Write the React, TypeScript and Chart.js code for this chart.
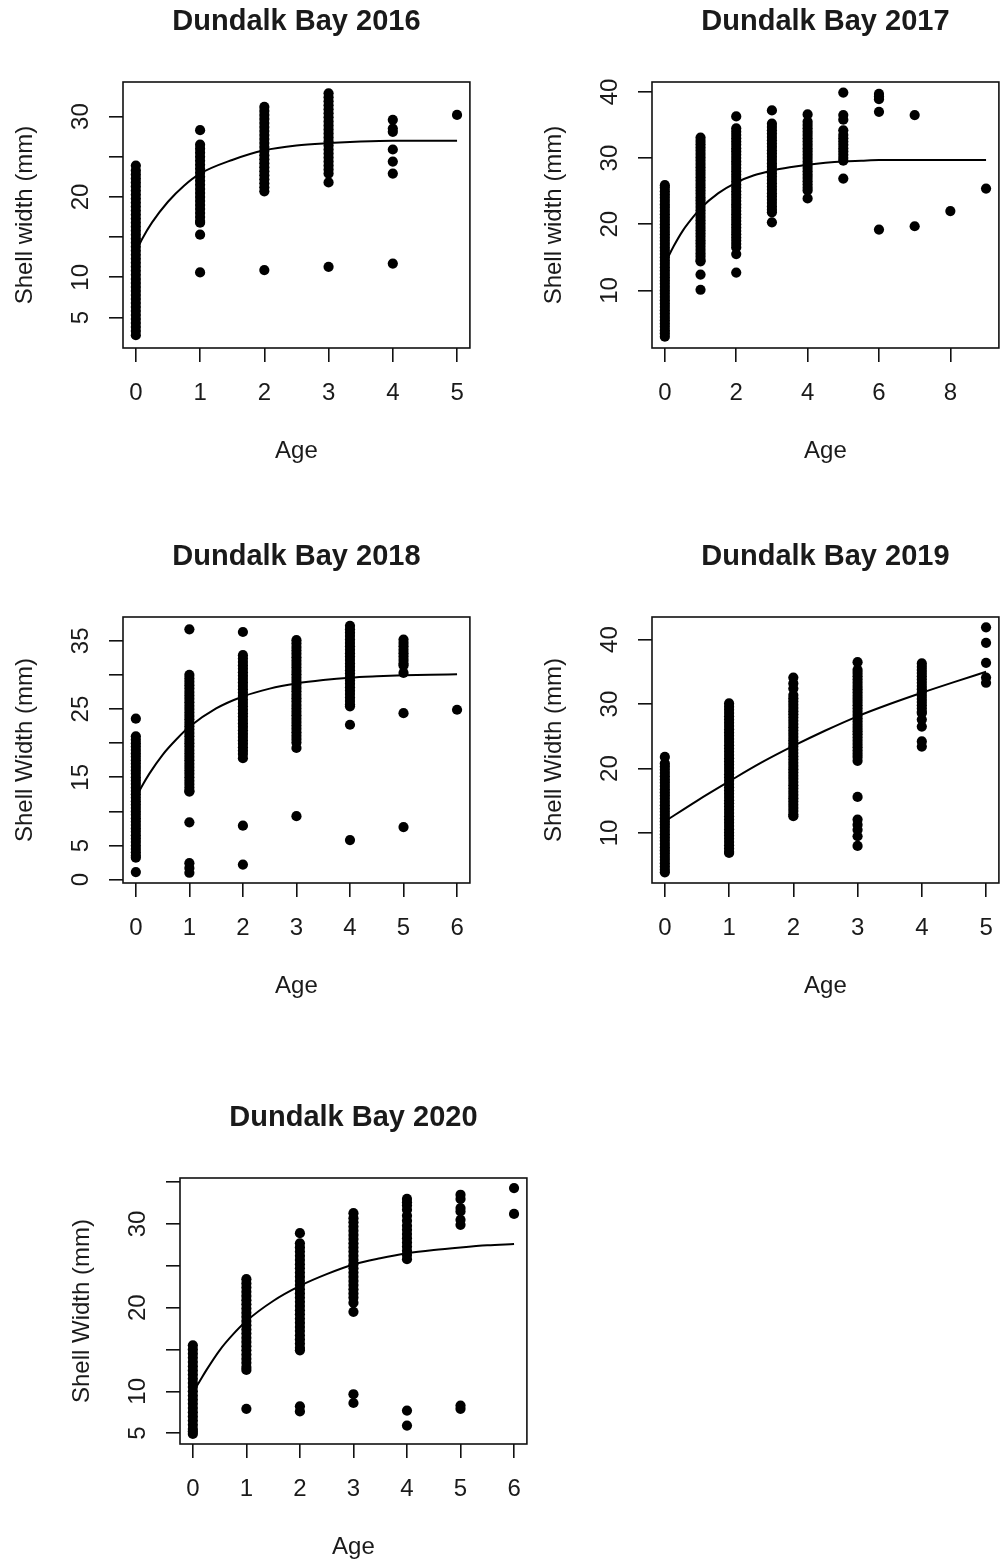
import React, { useEffect, useRef } from 'react';
import { Chart, registerables } from 'chart.js';

Chart.register(...registerables);

const FONT = '"Liberation Sans", Arial, Helvetica, sans-serif';
const INK = '#1a1a1a';

// ---------------- 2016 ----------------
const AGES_2016 = [0, 1, 2, 3, 4, 5];
const WIDTH_2016 = [
  [2.8, 3.3, 3.8, 4.3, 4.8, 5.3, 5.8, 6.3, 6.8, 7.3, 7.8, 8.3, 8.8, 9.3, 9.8, 10.3, 10.8, 11.3, 11.8, 12.3, 12.8, 13.3, 13.8, 14.3, 14.8, 15.3, 15.8, 16.3, 16.8, 17.3, 17.8, 18.3, 18.8, 19.3, 19.8, 20.3, 20.8, 21.3, 21.8, 22.3, 22.8, 23.3, 23.9],
  [28.3, 26.5, 26, 25.5, 25, 24.5, 24, 23.5, 23, 22.5, 22, 21.5, 21, 20.5, 20, 19.5, 19, 18.5, 18, 17.5, 17, 16.8, 15.3, 10.6],
  [31.2, 30.7, 30.2, 29.7, 29.2, 28.7, 28.2, 27.7, 27.2, 26.7, 26.2, 25.7, 25.2, 24.7, 24.2, 23.7, 23.2, 22.7, 22.2, 21.7, 21.2, 20.7, 10.9],
  [32.9, 32.4, 31.9, 31.4, 30.9, 30.4, 29.9, 29.4, 28.9, 28.4, 27.9, 27.4, 26.9, 26.4, 25.9, 25.4, 24.9, 24.4, 23.9, 23.4, 22.9, 21.8, 11.3],
  [29.6, 28.5, 28.1, 25.9, 24.4, 22.9, 11.7],
  [30.2],
];
const CURVE_AGE_2016 = [0, 0.1, 0.25, 0.5, 0.75, 1, 1.5, 2, 2.5, 3, 3.5, 4, 4.5, 5];
const CURVE_W_2016 = [13.2, 14.8, 16.8, 19.4, 21.4, 22.9, 24.6, 25.8, 26.4, 26.7, 26.9, 27.0, 27.0, 27.0];
const X_TICKS_2016 = [0, 1, 2, 3, 4, 5];
const Y_TICKS_2016 = [5, 10, 15, 20, 25, 30];
const Y_LABELS_2016 = [5, 10, 20, 30];

// ---------------- 2017 ----------------
const AGES_2017 = [0, 1, 2, 3, 4, 5, 6, 7, 8, 9];
const WIDTH_2017 = [
  [3, 3.5, 4, 4.5, 5, 5.5, 6, 6.5, 7, 7.5, 8, 8.5, 9, 9.5, 10, 10.5, 11, 11.5, 12, 12.5, 13, 13.5, 14, 14.5, 15, 15.5, 16, 16.5, 17, 17.5, 18, 18.5, 19, 19.5, 20, 20.5, 21, 21.5, 22, 22.5, 23, 23.5, 24, 24.5, 25, 25.5, 25.9],
  [33.1, 32.6, 32.1, 31.6, 31.1, 30.6, 30.1, 29.6, 29.1, 28.6, 28.1, 27.6, 27.1, 26.6, 26.1, 25.6, 25.1, 24.6, 24.1, 23.6, 23.1, 22.6, 22.1, 21.6, 21.1, 20.6, 20.1, 19.6, 19.1, 18.6, 18.1, 17.6, 17.1, 16.6, 16.1, 15.6, 15.1, 14.6, 14.4, 12.4, 10.1],
  [36.3, 34.5, 34, 33.5, 33, 32.5, 32, 31.5, 31, 30.5, 30, 29.5, 29, 28.5, 28, 27.5, 27, 26.5, 26, 25.5, 25, 24.5, 24, 23.5, 23, 22.5, 22, 21.5, 21, 20.5, 20, 19.5, 19, 18.5, 18, 17.5, 17, 16.5, 15.5, 12.7],
  [37.2, 35.2, 34.7, 34.2, 33.7, 33.2, 32.7, 32.2, 31.7, 31.2, 30.7, 30.2, 29.7, 29.2, 28.7, 28.2, 27.7, 27.2, 26.7, 26.2, 25.7, 25.2, 24.7, 24.2, 23.7, 23.2, 22.7, 22.2, 21.8, 20.3],
  [36.6, 35.5, 35, 34.5, 34, 33.5, 33, 32.5, 32, 31.5, 31, 30.5, 30, 29.5, 29, 28.5, 28, 27.5, 27, 26.5, 26, 25.5, 25.1, 23.9],
  [39.9, 36.5, 35.8, 34.2, 33.5, 33, 32.5, 32, 31.5, 31, 30.5, 30, 29.6, 26.9],
  [39.7, 39.3, 38.9, 37.0, 19.2],
  [36.5, 19.7],
  [22.0],
  [25.4],
];
const CURVE_AGE_2017 = [0, 0.1, 0.25, 0.5, 0.75, 1, 1.5, 2, 2.5, 3, 3.5, 4, 4.5, 5, 5.5, 6, 7, 8, 9];
const CURVE_W_2017 = [13.9, 15.1, 16.7, 19.0, 20.8, 22.4, 24.7, 26.3, 27.4, 28.1, 28.6, 29.0, 29.3, 29.5, 29.6, 29.7, 29.7, 29.7, 29.7];
const X_TICKS_2017 = [0, 2, 4, 6, 8];
const Y_TICKS_2017 = [10, 20, 30, 40];
const Y_LABELS_2017 = [10, 20, 30, 40];

// ---------------- 2018 ----------------
const AGES_2018 = [0, 1, 2, 3, 4, 5, 6];
const WIDTH_2018 = [
  [23.6, 21, 20.5, 20, 19.5, 19, 18.5, 18, 17.5, 17, 16.5, 16, 15.5, 15, 14.5, 14, 13.5, 13, 12.5, 12, 11.5, 11, 10.5, 10, 9.5, 9, 8.5, 8, 7.5, 7, 6.5, 6, 5.5, 5, 4.5, 4, 3.5, 3.2, 1.1],
  [36.7, 30, 29.5, 29, 28.5, 28, 27.5, 27, 26.5, 26, 25.5, 25, 24.5, 24, 23.5, 23, 22.5, 22, 21.5, 21, 20.5, 20, 19.5, 19, 18.5, 18, 17.5, 17, 16.5, 16, 15.5, 15, 14.5, 14, 13.5, 13, 12.9, 8.4, 2.4, 1.7, 1.0],
  [36.3, 32.9, 32.4, 31.9, 31.4, 30.9, 30.4, 29.9, 29.4, 28.9, 28.4, 27.9, 27.4, 26.9, 26.4, 25.9, 25.4, 24.9, 24.4, 23.9, 23.4, 22.9, 22.4, 21.9, 21.4, 20.9, 20.4, 19.9, 19.4, 18.9, 18.4, 17.8, 7.9, 2.2],
  [35.1, 34.6, 34.1, 33.6, 33.1, 32.6, 32.1, 31.6, 31.1, 30.6, 30.1, 29.6, 29.1, 28.6, 28.1, 27.6, 27.1, 26.6, 26.1, 25.6, 25.1, 24.6, 24.1, 23.6, 23.1, 22.6, 22.1, 21.6, 21.1, 20.6, 20.1, 19.3, 9.3],
  [37.2, 36.7, 36.2, 35.7, 35.2, 34.7, 34.2, 33.7, 33.2, 32.7, 32.2, 31.7, 31.2, 30.7, 30.2, 29.7, 29.2, 28.7, 28.2, 27.7, 27.2, 26.7, 26.2, 25.7, 25.4, 22.7, 5.8],
  [35.2, 34.7, 34.2, 33.7, 33.2, 32.7, 32.2, 31.7, 31.4, 30.3, 24.4, 7.7],
  [24.9],
];
const CURVE_AGE_2018 = [0, 0.1, 0.25, 0.5, 0.75, 1, 1.5, 2, 2.5, 3, 3.5, 4, 4.5, 5, 5.5, 6];
const CURVE_W_2018 = [12.0, 13.5, 15.5, 18.3, 20.5, 22.4, 25.1, 26.85, 28.0, 28.75, 29.25, 29.6, 29.8, 29.95, 30.05, 30.1];
const X_TICKS_2018 = [0, 1, 2, 3, 4, 5, 6];
const Y_TICKS_2018 = [0, 5, 10, 15, 20, 25, 30, 35];
const Y_LABELS_2018 = [0, 5, 15, 25, 35];

// ---------------- 2019 ----------------
const AGES_2019 = [0, 1, 2, 3, 4, 5];
const WIDTH_2019 = [
  [21.8, 20.8, 20.3, 19.8, 19.3, 18.8, 18.3, 17.8, 17.3, 16.8, 16.3, 15.8, 15.3, 14.8, 14.3, 13.8, 13.3, 12.8, 12.3, 11.8, 11.3, 10.8, 10.3, 9.8, 9.3, 8.8, 8.3, 7.8, 7.3, 6.8, 6.3, 5.8, 5.3, 4.8, 4.3, 3.9],
  [30.1, 29.6, 29.1, 28.6, 28.1, 27.6, 27.1, 26.6, 26.1, 25.6, 25.1, 24.6, 24.1, 23.6, 23.1, 22.6, 22.1, 21.6, 21.1, 20.6, 20.1, 19.6, 19.1, 18.6, 18.1, 17.6, 17.1, 16.6, 16.1, 15.6, 15.1, 14.6, 14.1, 13.6, 13.1, 12.6, 12.1, 11.6, 11.1, 10.6, 10.1, 9.6, 9.1, 8.6, 8.1, 7.6, 7.1, 6.9],
  [34.1, 33.2, 32.4, 31.4, 30.9, 30.4, 29.9, 29.4, 28.9, 28.4, 27.9, 27.4, 26.9, 26.4, 25.9, 25.4, 24.9, 24.4, 23.9, 23.4, 22.9, 22.4, 21.9, 21.4, 20.9, 20.4, 19.9, 19.4, 18.9, 18.4, 17.9, 17.4, 16.9, 16.4, 15.9, 15.4, 14.9, 14.4, 13.9, 13.4, 12.9, 12.6],
  [36.5, 35.3, 34.8, 34.3, 33.8, 33.3, 32.8, 32.3, 31.8, 31.3, 30.8, 30.3, 29.8, 29.3, 28.8, 28.3, 27.8, 27.3, 26.8, 26.3, 25.8, 25.3, 24.8, 24.3, 23.8, 23.3, 22.8, 22.3, 21.8, 21.2, 15.6, 12.1, 11.3, 10.5, 9.5, 8.0],
  [36.3, 35.8, 35.3, 34.8, 34.3, 33.8, 33.3, 32.8, 32.3, 31.8, 31.3, 30.8, 30.3, 29.8, 29.3, 28.8, 28.6, 27.6, 26.5, 24.2, 23.4],
  [41.9, 39.5, 36.4, 34.1, 33.3],
];
const CURVE_AGE_2019 = [0, 0.5, 1, 1.5, 2, 2.5, 3, 3.5, 4, 4.5, 5];
const CURVE_W_2019 = [11.8, 15.0, 18.0, 20.9, 23.5, 25.9, 28.1, 30.0, 31.75, 33.4, 35.0];
const X_TICKS_2019 = [0, 1, 2, 3, 4, 5];
const Y_TICKS_2019 = [10, 20, 30, 40];
const Y_LABELS_2019 = [10, 20, 30, 40];

// ---------------- 2020 ----------------
const AGES_2020 = [0, 1, 2, 3, 4, 5, 6];
const WIDTH_2020 = [
  [15.5, 15, 14.5, 14, 13.5, 13, 12.5, 12, 11.5, 11, 10.5, 10, 9.5, 9, 8.5, 8, 7.5, 7, 6.5, 6, 5.5, 5.2, 4.9],
  [23.4, 22.9, 22.4, 21.9, 21.4, 20.9, 20.4, 19.9, 19.4, 18.9, 18.4, 17.9, 17.4, 16.9, 16.4, 15.9, 15.4, 14.9, 14.4, 13.9, 13.4, 12.9, 12.55, 7.9],
  [28.9, 27.7, 27.2, 26.7, 26.2, 25.7, 25.2, 24.7, 24.2, 23.7, 23.2, 22.7, 22.2, 21.7, 21.2, 20.7, 20.2, 19.7, 19.2, 18.7, 18.2, 17.7, 17.2, 16.7, 16.2, 15.7, 15.2, 14.9, 8.2, 7.6],
  [31.3, 30.7, 30.2, 29.7, 29.2, 28.7, 28.2, 27.7, 27.2, 26.7, 26.2, 25.7, 25.2, 24.7, 24.2, 23.7, 23.2, 22.7, 22.2, 21.7, 21.2, 20.6, 19.5, 9.65, 8.6],
  [33.0, 32.6, 32.2, 31.7, 31.0, 30.4, 29.8, 29.3, 28.8, 28.3, 27.8, 27.3, 26.8, 26.3, 25.8, 7.7, 5.9],
  [33.5, 33.0, 31.9, 31.5, 30.5, 29.9, 8.3, 7.9],
  [34.3, 31.2],
];
const CURVE_AGE_2020 = [0, 0.1, 0.25, 0.5, 0.75, 1, 1.5, 2, 2.5, 3, 3.5, 4, 4.5, 5, 5.5, 6];
const CURVE_W_2020 = [9.9, 10.9, 12.5, 14.9, 16.8, 18.4, 20.8, 22.6, 24.0, 25.15, 25.9, 26.5, 26.9, 27.2, 27.45, 27.6];
const X_TICKS_2020 = [0, 1, 2, 3, 4, 5, 6];
const Y_TICKS_2020 = [5, 10, 15, 20, 25, 30, 35];
const Y_LABELS_2020 = [5, 10, 20, 30];

type Spec = {
  title: string;
  yTitle: string;
  boxL: number;
  boxT: number;
  xMin: number;
  xMax: number;
  yMin: number;
  yMax: number;
  ages: number[];
  widths: number[][];
  curveAges: number[];
  curveW: number[];
  xTicks: number[];
  yTicks: number[];
  yLabels: number[];
};

const PANELS: Spec[] = [
  { title: 'Dundalk Bay 2016', yTitle: 'Shell width (mm)', boxL: 123, boxT: 82, xMin: -0.2, xMax: 5.2, yMin: 1.2, yMax: 34.3,
    ages: AGES_2016, widths: WIDTH_2016, curveAges: CURVE_AGE_2016, curveW: CURVE_W_2016, xTicks: X_TICKS_2016, yTicks: Y_TICKS_2016, yLabels: Y_LABELS_2016 },
  { title: 'Dundalk Bay 2017', yTitle: 'Shell width (mm)', boxL: 652, boxT: 82, xMin: -0.36, xMax: 9.36, yMin: 1.3, yMax: 41.5,
    ages: AGES_2017, widths: WIDTH_2017, curveAges: CURVE_AGE_2017, curveW: CURVE_W_2017, xTicks: X_TICKS_2017, yTicks: Y_TICKS_2017, yLabels: Y_LABELS_2017 },
  { title: 'Dundalk Bay 2018', yTitle: 'Shell Width (mm)', boxL: 123, boxT: 617, xMin: -0.24, xMax: 6.24, yMin: -0.5, yMax: 38.5,
    ages: AGES_2018, widths: WIDTH_2018, curveAges: CURVE_AGE_2018, curveW: CURVE_W_2018, xTicks: X_TICKS_2018, yTicks: Y_TICKS_2018, yLabels: Y_LABELS_2018 },
  { title: 'Dundalk Bay 2019', yTitle: 'Shell Width (mm)', boxL: 652, boxT: 617, xMin: -0.2, xMax: 5.2, yMin: 2.25, yMax: 43.5,
    ages: AGES_2019, widths: WIDTH_2019, curveAges: CURVE_AGE_2019, curveW: CURVE_W_2019, xTicks: X_TICKS_2019, yTicks: Y_TICKS_2019, yLabels: Y_LABELS_2019 },
  { title: 'Dundalk Bay 2020', yTitle: 'Shell Width (mm)', boxL: 180, boxT: 1178, xMin: -0.24, xMax: 6.24, yMin: 3.7, yMax: 35.5,
    ages: AGES_2020, widths: WIDTH_2020, curveAges: CURVE_AGE_2020, curveW: CURVE_W_2020, xTicks: X_TICKS_2020, yTicks: Y_TICKS_2020, yLabels: Y_LABELS_2020 },
];

const CANVAS_W = 475;
const CANVAS_H = 478;
const PAD_LEFT = 123;
const PAD_TOP = 82;
const AREA_BOTTOM = 348;
const LINE_INK = '#111';

function textPlugin(spec: Spec) {
  return {
    id: 'rStyleText',
    afterDraw(chart: any) {
      const { ctx, chartArea: a, scales } = chart;
      ctx.save();
      ctx.strokeStyle = LINE_INK;
      ctx.lineWidth = 1.6;
      ctx.strokeRect(a.left, a.top, a.right - a.left, a.bottom - a.top);

      ctx.fillStyle = INK;
      ctx.textAlign = 'center';
      ctx.textBaseline = 'alphabetic';
      ctx.font = `bold 29px ${FONT}`;
      ctx.fillText(spec.title, (a.left + a.right) / 2, a.top - 52);

      ctx.font = `24px ${FONT}`;
      for (const v of spec.xTicks) {
        ctx.fillText(String(v), scales.x.getPixelForValue(v), a.bottom + 52);
      }
      ctx.fillText('Age', (a.left + a.right) / 2, a.bottom + 110);

      for (const v of spec.yLabels) {
        ctx.save();
        ctx.translate(a.left - 35, scales.y.getPixelForValue(v));
        ctx.rotate(-Math.PI / 2);
        ctx.fillText(String(v), 0, 0);
        ctx.restore();
      }
      ctx.save();
      ctx.translate(a.left - 91, (a.top + a.bottom) / 2);
      ctx.rotate(-Math.PI / 2);
      ctx.fillText(spec.yTitle, 0, 0);
      ctx.restore();
      ctx.restore();
    },
  };
}

function Panel({ spec }: { spec: Spec }) {
  const ref = useRef<HTMLCanvasElement>(null);
  useEffect(() => {
    if (!ref.current) return;
    const pts = spec.ages.flatMap((a, i) => spec.widths[i].map((w) => ({ x: a, y: w })));
    const curve = spec.curveAges.map((a, i) => ({ x: a, y: spec.curveW[i] }));
    const gridOpts = { drawOnChartArea: false, drawTicks: true, tickLength: 14, color: LINE_INK, lineWidth: 1.6 };
    const chart = new Chart(ref.current, {
      type: 'scatter',
      data: {
        datasets: [
          {
            data: curve,
            showLine: true,
            borderColor: '#000',
            borderWidth: 2,
            pointRadius: 0,
            cubicInterpolationMode: 'monotone',
            order: 0,
          } as any,
          {
            data: pts,
            pointRadius: 5.1,
            pointBackgroundColor: '#000',
            pointBorderWidth: 0,
            backgroundColor: '#000',
            borderColor: '#000',
            order: 1,
          } as any,
        ],
      },
      options: {
        responsive: false,
        animation: false,
        events: [],
        layout: { padding: { top: PAD_TOP, right: 1, left: 0, bottom: 0 } },
        plugins: {
          legend: { display: false },
          tooltip: { enabled: false },
          title: { display: false },
        },
        scales: {
          x: {
            type: 'linear',
            position: 'bottom',
            min: spec.xMin,
            max: spec.xMax,
            afterBuildTicks: (s: any) => {
              s.ticks = spec.xTicks.map((v) => ({ value: v }));
            },
            afterFit: (s: any) => {
              s.height = CANVAS_H - AREA_BOTTOM;
            },
            ticks: { display: false },
            grid: gridOpts,
            border: { display: false },
          },
          y: {
            type: 'linear',
            position: 'left',
            min: spec.yMin,
            max: spec.yMax,
            afterBuildTicks: (s: any) => {
              s.ticks = spec.yTicks.map((v) => ({ value: v }));
            },
            afterFit: (s: any) => {
              s.width = PAD_LEFT;
            },
            ticks: { display: false },
            grid: gridOpts,
            border: { display: false },
          },
        },
      } as any,
      plugins: [textPlugin(spec)],
    });
    return () => chart.destroy();
  }, [spec]);
  return (
    <canvas
      ref={ref}
      width={CANVAS_W}
      height={CANVAS_H}
      style={{ position: 'absolute', left: spec.boxL - PAD_LEFT, top: spec.boxT - PAD_TOP }}
    />
  );
}

export default function App() {
  return (
    <div
      style={{
        position: 'absolute',
        left: 0,
        top: 0,
        width: 1004,
        height: 1564,
        overflow: 'hidden',
        background: '#fff',
      }}
    >
      {PANELS.map((p) => (
        <Panel key={p.title} spec={p} />
      ))}
    </div>
  );
}
